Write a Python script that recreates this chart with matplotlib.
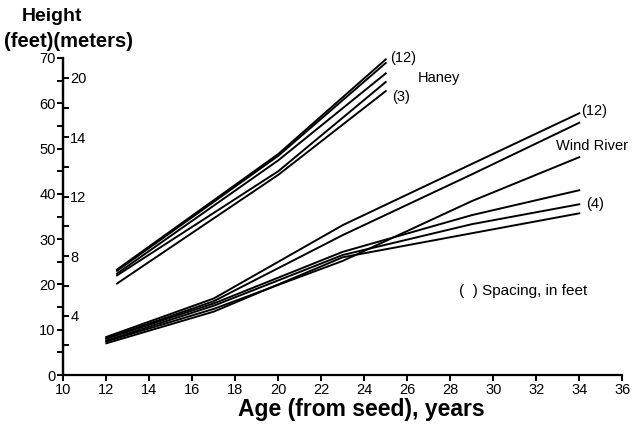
import numpy as np
import matplotlib
matplotlib.use("Agg")
import matplotlib.pyplot as plt
from matplotlib.ticker import FixedLocator, FixedFormatter

plt.rcParams['font.family'] = ['Liberation Sans', 'DejaVu Sans']

# Haney plots: ages and heights (feet), one row per spacing
haney_age = [12.5, 20, 25]
haney_heights = {
    "12": [23.3, 48.8, 69.7],
    "b": [23.0, 48.4, 68.9],
    "c": [22.4, 47.4, 66.6],
    "d": [22.0, 45.0, 64.7],
    "3": [20.2, 44.2, 62.7],
}

# Wind River plots
wind_age = [12, 17, 23, 29, 34]
wind_heights = {
    "12": [8.4, 16.9, 33.1, 46.6, 57.8],
    "b": [8.1, 16.3, 30.9, 44.3, 55.7],
    "c": [7.4, 14.6, 25.2, 38.4, 48.1],
    "d": [8.0, 15.8, 27.2, 35.3, 40.8],
    "4": [7.6, 15.3, 26.5, 33.3, 37.7],
    "e": [7.0, 14.0, 26.0, 31.3, 35.7],
}

feet_labels = ["0", "10", "20", "30", "40", "50", "60", "70"]
meter_ticks = [4, 8, 12, 16, 20]
meter_labels = ["4", "8", "12", "14", "20"]
x_ticks = list(range(10, 37, 2))

FT_PER_M = 3.2808

fig = plt.figure(figsize=(6.34, 4.28), dpi=100)
ax = fig.add_axes([0.0998, 0.1238, 0.8817, 0.7407])

for h in haney_heights.values():
    ax.plot(haney_age, h, color="black", lw=1.4)
for h in wind_heights.values():
    ax.plot(wind_age, h, color="black", lw=1.4)

ax.set_xlim(10, 36)
ax.set_ylim(0, 70)
ax.spines["top"].set_visible(False)
ax.spines["right"].set_visible(False)
for s in ["left", "bottom"]:
    ax.spines[s].set_linewidth(1.6)

ax.set_xticks(x_ticks)
ax.set_xticklabels([str(t) for t in x_ticks], fontsize=10.5)
ax.set_yticks(range(0, 71, 10))
ax.set_yticklabels(feet_labels, fontsize=10.5)
ax.set_yticks(range(5, 70, 10), minor=True)
ax.tick_params(axis="y", which="both", length=4.5, width=1.4, pad=1)
ax.tick_params(axis="x", which="both", length=4, width=1.4, pad=2)

# meter scale drawn on the right side of the left spine
sec = ax.secondary_yaxis(0.0, functions=(lambda f: f / FT_PER_M, lambda m: m * FT_PER_M))
sec.set_alignment("right")
sec.yaxis.set_major_locator(FixedLocator(meter_ticks))
sec.yaxis.set_major_formatter(FixedFormatter(meter_labels))
sec.yaxis.set_minor_locator(FixedLocator([2, 6, 10, 14, 18]))
sec.tick_params(axis="y", which="both", length=4.5, width=1.4, pad=0.5, labelsize=10.5)
sec.spines["right"].set_linewidth(1.6)

ax.set_xlabel("Age (from seed), years", fontsize=16.5, fontweight="bold")
ax.xaxis.set_label_coords(0.533, -0.074)

fig.text(0.082, 0.962, "Height", fontsize=14, fontweight="bold", ha="center", va="center")
fig.text(0.006, 0.903, "(feet)(meters)", fontsize=14.5, fontweight="bold", ha="left", va="center")

ax.text(25.2, haney_heights["12"][-1] + 0.3, "(12)", fontsize=10.5, ha="left", va="center")
ax.text(26.5, 65.5, "Haney", fontsize=10.5, ha="left", va="center")
ax.text(25.3, haney_heights["3"][-1] - 1.3, "(3)", fontsize=10.5, ha="left", va="center")
ax.text(34.1, wind_heights["12"][-1] + 0.6, "(12)", fontsize=10.5, ha="left", va="center")
ax.text(32.9, 50.5, "Wind River", fontsize=10.5, ha="left", va="center")
ax.text(34.3, wind_heights["4"][-1] + 0.1, "(4)", fontsize=10.5, ha="left", va="center")
ax.text(28.4, 18.5, "(  ) Spacing, in feet", fontsize=11, ha="left", va="center")

fig.savefig("out.png", dpi=100)
